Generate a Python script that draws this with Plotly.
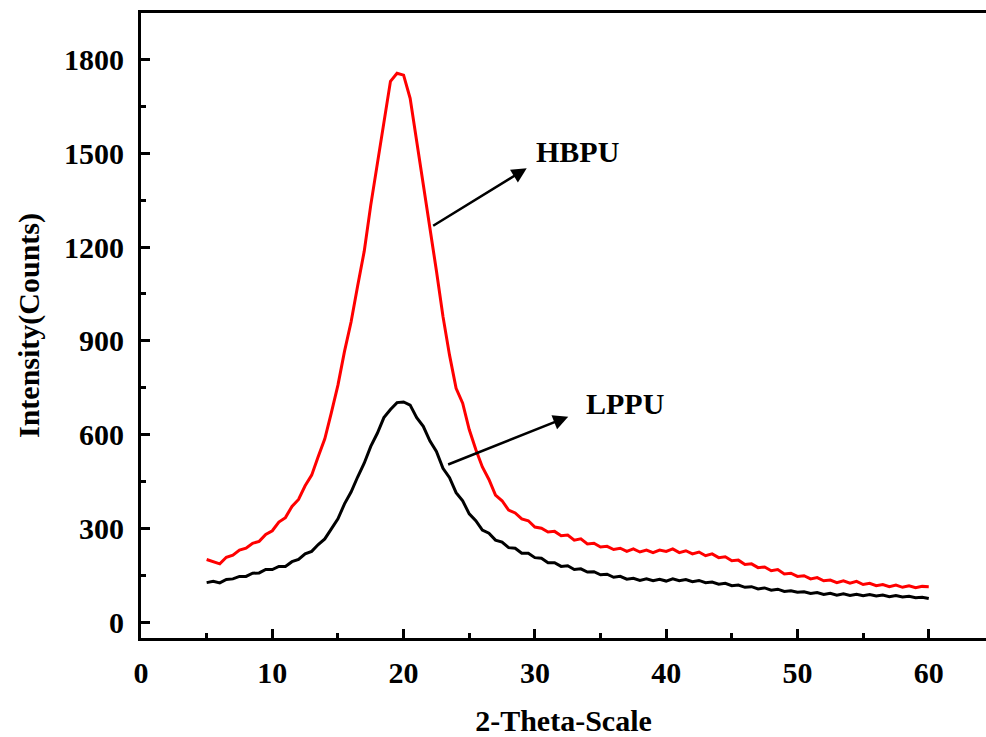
import plotly.graph_objects as go

# 2-theta sampling grid (degrees), 0.5 deg step from 5 to 60
two_theta = [5.0 + 0.5 * i for i in range(111)]

hbpu = [
    200, 192, 186, 207, 214, 230, 236, 252, 258, 280,
    292, 320, 334, 370, 392, 436, 470, 530, 586, 670,
    758, 866, 960, 1075, 1186, 1334, 1466, 1610, 1730, 1756,
    1750, 1676, 1540, 1408, 1262, 1124, 978, 854, 748, 700,
    616, 552, 496, 456, 406, 388, 358, 349, 330, 324,
    304, 300, 288, 290, 276, 278, 262, 266, 250, 252,
    240, 242, 232, 236, 226, 234, 224, 230, 222, 230,
    226, 234, 222, 228, 218, 224, 212, 218, 206, 209,
    196, 198, 184, 186, 174, 176, 164, 168, 154, 156,
    146, 148, 138, 142, 132, 134, 126, 132, 124, 130,
    120, 124, 116, 120, 113, 118, 111, 116, 110, 114, 113,
]

lppu = [
    126, 130, 125, 136, 138, 146, 146, 156, 157, 168,
    168, 178, 178, 193, 200, 218, 226, 248, 266, 300,
    330, 378, 416, 464, 508, 562, 604, 654, 680, 702,
    704, 694, 654, 626, 580, 546, 492, 462, 414, 388,
    346, 324, 294, 284, 262, 256, 238, 236, 220, 220,
    206, 204, 190, 190, 178, 180, 168, 170, 160, 161,
    151, 153, 143, 146, 137, 140, 133, 138, 132, 137,
    131, 138, 132, 136, 129, 133, 126, 128, 121, 124,
    116, 118, 111, 113, 106, 109, 102, 105, 98, 100,
    95, 97, 91, 94, 88, 92, 86, 90, 85, 89,
    84, 88, 83, 86, 81, 85, 80, 82, 78, 79, 75,
]

x_ticks = [0, 10, 20, 30, 40, 50, 60]
y_ticks = [0, 300, 600, 900, 1200, 1500, 1800]

FONT = "Liberation Serif"

fig = go.Figure()
fig.add_trace(go.Scatter(x=two_theta, y=lppu, mode="lines", name="LPPU",
                         line=dict(color="black", width=3)))
fig.add_trace(go.Scatter(x=two_theta, y=hbpu, mode="lines", name="HBPU",
                         line=dict(color="#ff0000", width=3)))

# arrows
fig.add_annotation(x=29.38, y=1452, ax=22.14, ay=1265, xref="x", yref="y",
                   axref="x", ayref="y", text="", showarrow=True,
                   arrowhead=2, arrowsize=1.2, arrowwidth=2.5, arrowcolor="black")
fig.add_annotation(x=32.54, y=657, ax=23.28, ay=502, xref="x", yref="y",
                   axref="x", ayref="y", text="", showarrow=True,
                   arrowhead=2, arrowsize=1.2, arrowwidth=2.5, arrowcolor="black")
fig.add_annotation(x=33.28, y=1505, text="HBPU", showarrow=False,
                   font=dict(family=FONT, size=30, color="black", weight="bold"))
fig.add_annotation(x=36.86, y=700, text="LPPU", showarrow=False,
                   font=dict(family=FONT, size=30, color="black", weight="bold"))

axis_font = dict(family=FONT, size=30, color="black", weight="bold")

fig.update_layout(
    width=986, height=737,
    margin=dict(l=141, r=0, t=13, b=99),
    paper_bgcolor="white", plot_bgcolor="white",
    showlegend=False,
    font=dict(family=FONT, color="black"),
    xaxis=dict(
        range=[0, 64.36], tickvals=x_ticks, ticktext=[str(v) for v in x_ticks],
        showgrid=False, zeroline=False, showline=True, linewidth=3, linecolor="black",
        mirror=True, ticks="inside", ticklen=9, tickwidth=3, tickcolor="black",
        minor=dict(dtick=5, tick0=0, ticks="inside", ticklen=5, tickwidth=3, tickcolor="black", showgrid=False),
        tickfont=axis_font, ticklabelstandoff=6,
        title=dict(text="2-Theta-Scale", font=axis_font, standoff=28),
    ),
    yaxis=dict(
        range=[-51.2, 1948.8], tickvals=y_ticks, ticktext=[str(v) for v in y_ticks],
        showgrid=False, zeroline=False, showline=True, linewidth=3, linecolor="black",
        ticks="inside", ticklen=9, tickwidth=3, tickcolor="black",
        minor=dict(dtick=150, tick0=0, ticks="inside", ticklen=5, tickwidth=3, tickcolor="black", showgrid=False),
        tickfont=axis_font, ticklabelstandoff=8,
        title=dict(text="Intensity(Counts)", font=axis_font, standoff=16),
    ),
)

fig.write_html("out.html", config={"displayModeBar": False})

# remove the browser's default page margin so the figure fills the window exactly
with open("out.html", "r", encoding="utf-8") as f:
    html = f.read()
html = html.replace("<head>", "<head><style>html,body{margin:0;padding:0;overflow:hidden;}</style>", 1)
with open("out.html", "w", encoding="utf-8") as f:
    f.write(html)
